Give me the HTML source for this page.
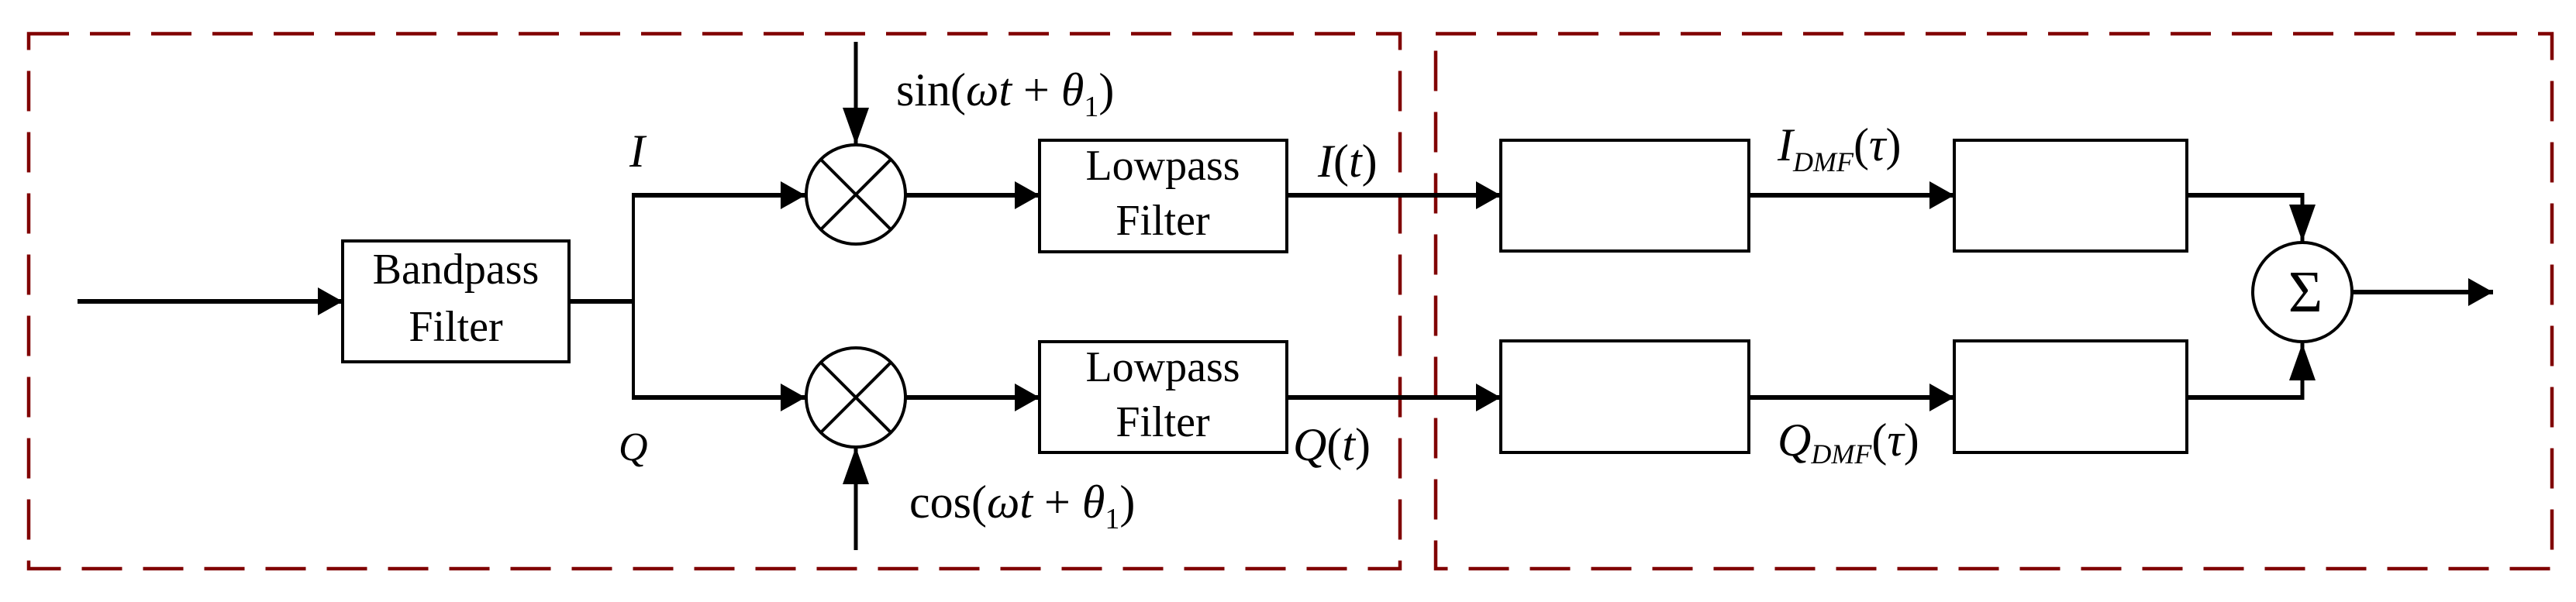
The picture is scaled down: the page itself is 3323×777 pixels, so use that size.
<!DOCTYPE html>
<html><head><meta charset="utf-8"><style>
html,body{margin:0;padding:0;background:#fff;}
svg{display:block;}
text{font-family:"Liberation Serif",serif;fill:#000;}
</style></head><body>
<svg width="3323" height="777" viewBox="0 0 3323 777" xmlns="http://www.w3.org/2000/svg">
<defs>
<marker id="a" markerUnits="userSpaceOnUse" markerWidth="34" markerHeight="36" refX="32" refY="18" orient="auto">
<path d="M0,0 L32,18 L0,36 Z" fill="#000"/>
</marker>
<marker id="v" markerUnits="userSpaceOnUse" markerWidth="50" markerHeight="34" refX="48" refY="17" orient="auto">
<path d="M0,0 L48,17 L0,34 Z" fill="#000"/>
</marker>
</defs>
<g fill="none" stroke="#800000" stroke-width="4.5" stroke-dasharray="52 27">
<rect x="37" y="43.5" width="1769" height="690.5"/>
<rect x="1852" y="43.5" width="1440" height="690.5"/>
</g>
<g fill="none" stroke="#000">
<line x1="100" y1="389" x2="442" y2="389" stroke-width="6" marker-end="url(#a)"/>
<rect x="442" y="311" width="292" height="156" stroke-width="4"/>
<polyline points="734,389 817,389" stroke-width="6"/>
<line x1="817" y1="250" x2="817" y2="515" stroke-width="4"/>
<line x1="815" y1="252" x2="1039" y2="252" stroke-width="6" marker-end="url(#a)"/>
<line x1="815" y1="513" x2="1039" y2="513" stroke-width="6" marker-end="url(#a)"/>
<circle cx="1104" cy="251" r="64" stroke-width="4"/>
<line x1="1059" y1="206" x2="1149" y2="296" stroke-width="4"/>
<line x1="1149" y1="206" x2="1059" y2="296" stroke-width="4"/>
<circle cx="1104" cy="513" r="64" stroke-width="4"/>
<line x1="1059" y1="468" x2="1149" y2="558" stroke-width="4"/>
<line x1="1149" y1="468" x2="1059" y2="558" stroke-width="4"/>
<line x1="1104" y1="54" x2="1104" y2="187" stroke-width="5" marker-end="url(#v)"/>
<line x1="1104" y1="710" x2="1104" y2="577" stroke-width="5" marker-end="url(#v)"/>
<line x1="1168" y1="252" x2="1341" y2="252" stroke-width="6" marker-end="url(#a)"/>
<line x1="1168" y1="513" x2="1341" y2="513" stroke-width="6" marker-end="url(#a)"/>
<rect x="1341" y="181" width="319" height="144" stroke-width="4"/>
<rect x="1341" y="441" width="319" height="143" stroke-width="4"/>
<line x1="1660" y1="252" x2="1936" y2="252" stroke-width="6" marker-end="url(#a)"/>
<line x1="1660" y1="513" x2="1936" y2="513" stroke-width="6" marker-end="url(#a)"/>
<rect x="1936" y="181" width="320" height="143" stroke-width="4"/>
<rect x="1936" y="440" width="320" height="144" stroke-width="4"/>
<line x1="2256" y1="252" x2="2521" y2="252" stroke-width="6" marker-end="url(#a)"/>
<line x1="2256" y1="513" x2="2521" y2="513" stroke-width="6" marker-end="url(#a)"/>
<rect x="2521" y="181" width="300" height="143" stroke-width="4"/>
<rect x="2521" y="440" width="300" height="144" stroke-width="4"/>
<polyline points="2821,252 2970,252" stroke-width="6"/>
<line x1="2970" y1="249" x2="2970" y2="312" stroke-width="5" marker-end="url(#v)"/>
<polyline points="2821,513 2970,513" stroke-width="6"/>
<line x1="2970" y1="516" x2="2970" y2="443" stroke-width="5" marker-end="url(#v)"/>
<circle cx="2970" cy="377" r="64" stroke-width="4"/>
<line x1="3034" y1="377" x2="3216" y2="377" stroke-width="6" marker-end="url(#a)"/>
</g>
<g font-size="56" text-anchor="middle">
<text x="588" y="366">Bandpass</text>
<text x="588" y="440">Filter</text>
<text x="1500" y="232">Lowpass</text>
<text x="1500" y="303">Filter</text>
<text x="1500" y="492">Lowpass</text>
<text x="1500" y="563">Filter</text>
</g>
<g font-size="60">
<text x="1156" y="136">sin(<tspan font-style="italic">ωt</tspan> + <tspan font-style="italic">θ</tspan><tspan font-size="38" dy="14">1</tspan><tspan dy="-14">)</tspan></text>
<text x="1173" y="668">cos(<tspan font-style="italic">ωt</tspan>  + <tspan font-style="italic">θ</tspan><tspan font-size="38" dy="14">1</tspan><tspan dy="-14">)</tspan></text>
<text x="812" y="215" font-style="italic">I</text>
<text x="798" y="594" font-style="italic" font-size="52">Q</text>
<text x="1700" y="228"><tspan font-style="italic">I</tspan>(<tspan font-style="italic">t</tspan>)</text>
<text x="1668" y="594"><tspan font-style="italic">Q</tspan>(<tspan font-style="italic">t</tspan>)</text>
<text x="2293" y="207"><tspan font-style="italic">I</tspan><tspan font-style="italic" font-size="36" dy="14">DMF</tspan><tspan dy="-14">(</tspan><tspan font-style="italic">τ</tspan>)</text>
<text x="2293" y="588"><tspan font-style="italic">Q</tspan><tspan font-style="italic" font-size="36" dy="10">DMF</tspan><tspan dy="-10">(</tspan><tspan font-style="italic">τ</tspan>)</text>
<text x="2974" y="402" text-anchor="middle" font-size="76">Σ</text>
</g>
</svg>
</body></html>
